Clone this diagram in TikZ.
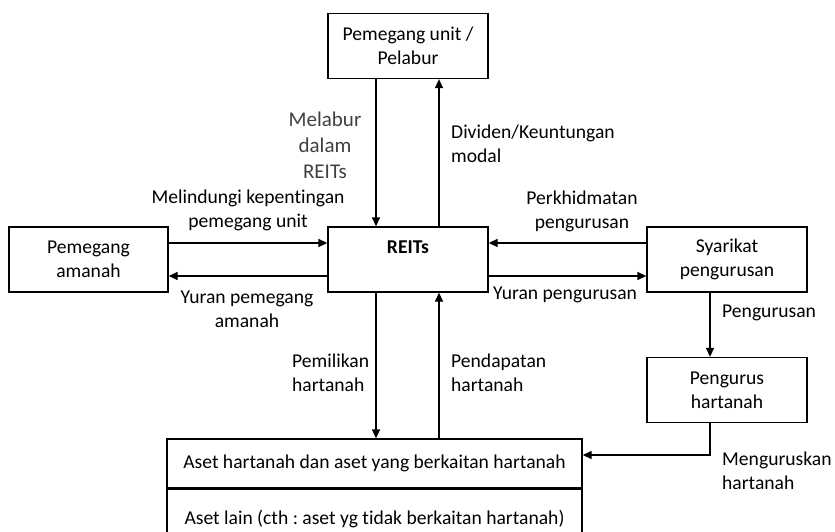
\documentclass[tikz,border=0pt]{standalone}
\usepackage{fontspec}
\setmainfont{Carlito}[Ligatures=NoCommon]
\frenchspacing
\usetikzlibrary{arrows.meta,positioning}

\begin{document}
\begin{tikzpicture}[x=1pt,y=-1pt,
  every node/.style={font=\fontsize{19.6}{24}\selectfont},
  box/.style={draw,line width=1.3pt,minimum width=160pt,minimum height=65pt,align=center,inner sep=2pt},
  flow/.style={line width=1.3pt,-{Triangle[length=9pt,width=8pt]}},
  lbl/.style={align=center,inner sep=1pt}]
  \useasboundingbox (0,0) rectangle (835,532);
  \clip (0,0) rectangle (835,532);
  % boxes
  \node[box] (pelabur) at (408,46) {Pemegang unit /\\Pelabur};
  \node[box] (reits) at (408,259.5) {\textbf{REITs}\\\mbox{}};
  \node[box,minimum width=159pt] (amanah) at (88.5,259.5) {Pemegang\\amanah};
  \node[box] (syarikat) at (727,259.5) {Syarikat\\pengurusan};
  \node[box] (pengurus) at (727,390) {Pengurus\\hartanah};
  \node[box,minimum width=415pt,minimum height=49pt] (aset) at (374.5,463.5) {Aset hartanah dan aset yang berkaitan hartanah};
  \node[box,minimum width=415pt,minimum height=60pt,anchor=north] (asetlain) at (aset.south) {Aset lain (cth : aset yg tidak berkaitan hartanah)};
  % connectors
  \draw[flow] ([xshift=-32pt]pelabur.south) -- ([xshift=-32pt]reits.north);
  \draw[flow] ([xshift=31pt]reits.north) -- ([xshift=31pt]pelabur.south);
  \draw[flow] ([yshift=16.5pt]amanah.east) -- ([yshift=16.5pt]reits.west);
  \draw[flow] ([yshift=-16.5pt]reits.west) -- ([yshift=-16.5pt]amanah.east);
  \draw[flow] ([yshift=16.5pt]syarikat.west) -- ([yshift=16.5pt]reits.east);
  \draw[flow] ([yshift=-16.5pt]reits.east) -- ([yshift=-16.5pt]syarikat.east -| syarikat.west);
  \draw[flow] ([xshift=-17pt]syarikat.south) -- ([xshift=-17pt]pengurus.north);
  \draw[flow] ([xshift=-32pt]reits.south) -- ([xshift=-32pt]reits.south |- aset.north);
  \draw[flow] ([xshift=31pt]reits.south |- aset.north) -- ([xshift=31pt]reits.south);
  \draw[flow] ([xshift=-17pt]pengurus.south) |- ([yshift=8.5pt]aset.east);
  % labels
  \node[lbl,text=black!75,font=\fontsize{21}{26}\selectfont] (melabur) at (325,145) {Melabur\\dalam\\REITs};
  \node[lbl] (melindungi) at (248,210.5) {Melindungi kepentingan\\pemegang unit};
  \node[lbl,anchor=west,align=left] (dividen) at (450,143.5) {Dividen/Keuntungan\\modal};
  \node[lbl] (perkhidmatan) at (582,211) {Perkhidmatan\\pengurusan};
  \node[lbl] (yuranamanah) at (247,309) {Yuran pemegang\\amanah};
  \node[lbl,anchor=west] (yuranpengurusan) at (492,295) {Yuran pengurusan};
  \node[lbl,anchor=west] (pengurusan) at (721,313) {Pengurusan};
  \node[lbl,anchor=west,align=left] (pemilikan) at (291,373) {Pemilikan\\hartanah};
  \node[lbl,anchor=west,align=left] (pendapatan) at (450,373) {Pendapatan\\hartanah};
  \node[lbl,anchor=west,align=left] (menguruskan) at (721,471) {Menguruskan\\hartanah};
\end{tikzpicture}
\end{document}
